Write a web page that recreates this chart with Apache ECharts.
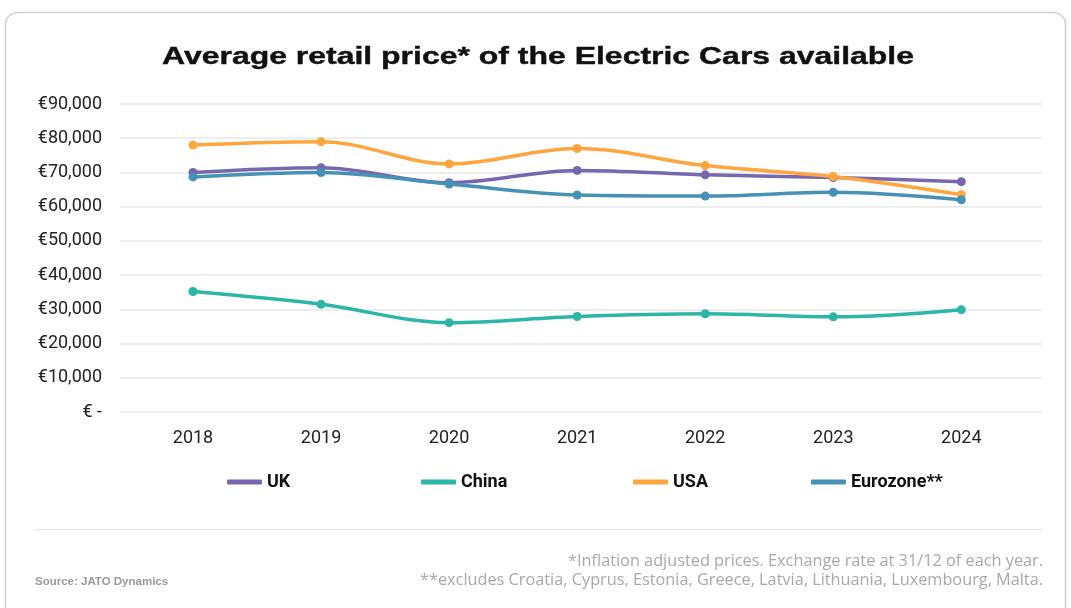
<!DOCTYPE html>
<html>
<head>
<meta charset="utf-8">
<script src="https://cdn.jsdelivr.net/npm/echarts@6/dist/echarts.min.js"></script>
<style>
  html, body { margin: 0; padding: 0; background: #fff; }
  #chart { width: 1071px; height: 608px; }
</style>
</head>
<body>
<div id="chart"></div>
<script>
// values (EUR, inflation adjusted)
const years = [2018, 2019, 2020, 2021, 2022, 2023, 2024]
const uk = [70000, 71400, 67000, 70600, 69300, 68500, 67300]
const china = [35200, 31500, 26100, 27900, 28700, 27800, 29900]
const usa = [78000, 79000, 72500, 77000, 72000, 68800, 63500]
const eurozone = [68700, 70000, 66600, 63400, 63100, 64200, 62000]

const seriesDefs = [
  { name: 'UK', data: uk, color: '#7667ae' },
  { name: 'China', data: china, color: '#2bb6a8' },
  { name: 'USA', data: usa, color: '#ffa53e' },
  { name: 'Eurozone**', data: eurozone, color: '#4592b6' }
]
// legend slots as laid out in the original
const legendLeft = [227, 421, 633, 811]

const fmt = v => v === 0 ? '€ -' : '€' + v.toLocaleString('en-US')

// the original title uses a wide grotesk, stretch a normal bold face to the same width
const titleText = 'Average retail price* of the Electric Cars available'
const titleFont = 'bold 24px "Liberation Sans", Arial, sans-serif'
let ctx = document.createElement('canvas').getContext('2d')
ctx.font = titleFont
const titleScale = 752 / ctx.measureText(titleText).width

let chart = echarts.init(document.getElementById('chart'))
chart.setOption({
  animation: false,
  textStyle: { fontFamily: 'Roboto, "Liberation Sans", sans-serif' },
  grid: { left: 120, right: 29, top: 104, bottom: 196 },
  xAxis: {
    type: 'value',
    min: 2017.43,
    max: 2024.63,
    axisLine: { show: false },
    axisTick: { show: false },
    splitLine: { show: false },
    axisLabel: {
      customValues: years,
      formatter: v => String(v),
      fontSize: 18,
      color: '#222',
      margin: 17
    }
  },
  yAxis: {
    type: 'value',
    min: 0,
    max: 90000,
    interval: 10000,
    axisLine: { show: false },
    axisTick: { show: false },
    splitLine: { lineStyle: { color: '#e8e8e8', width: 1.5 } },
    axisLabel: {
      formatter: fmt,
      fontSize: 18,
      color: '#222',
      margin: 18
    }
  },
  legend: seriesDefs.map((s, i) => ({
    data: [s.name],
    left: legendLeft[i],
    top: 473,
    padding: 0,
    icon: 'roundRect',
    itemWidth: 35,
    itemHeight: 5,
    textStyle: { fontSize: 18, fontWeight: 'bold', color: '#111' }
  })),
  graphic: [
    {
      type: 'rect',
      shape: { x: 5.5, y: 12.5, width: 1060, height: 620, r: 12 },
      style: { fill: 'none', stroke: '#cfcfcf', lineWidth: 1.5 },
      silent: true
    },
    {
      type: 'text',
      x: 538,
      y: 57,
      scaleX: titleScale,
      style: {
        text: titleText,
        font: titleFont,
        fill: '#111',
        stroke: '#111',
        lineWidth: 0.4,
        align: 'center',
        verticalAlign: 'middle'
      }
    },
    {
      type: 'line',
      shape: { x1: 35, y1: 529.5, x2: 1043, y2: 529.5 },
      style: { stroke: '#e6e6e6', lineWidth: 1 }
    },
    {
      type: 'text',
      x: 35,
      y: 582,
      style: { text: 'Source: JATO Dynamics', fontSize: 11.5, fontWeight: 'bold', fill: '#9a9a9a', verticalAlign: 'middle', fontFamily: '"Liberation Sans", Arial, sans-serif' }
    },
    {
      type: 'text',
      x: 1043,
      y: 571,
      style: {
        text: '*Inflation adjusted prices. Exchange rate at 31/12 of each year.\n**excludes Croatia, Cyprus, Estonia, Greece, Latvia, Lithuania, Luxembourg, Malta.',
        align: 'right',
        verticalAlign: 'middle',
        fontSize: 16.3,
        lineHeight: 19,
        fill: '#a8a8a8',
        fontFamily: '"Open Sans", Roboto, sans-serif'
      }
    }
  ],
  series: seriesDefs.map(s => ({
    name: s.name,
    type: 'line',
    smooth: 0.35,
    data: s.data.map((v, i) => [years[i], v]),
    symbol: 'circle',
    symbolSize: 9,
    lineStyle: { width: 3.5, color: s.color },
    itemStyle: { color: s.color }
  }))
})
</script>
</body>
</html>
